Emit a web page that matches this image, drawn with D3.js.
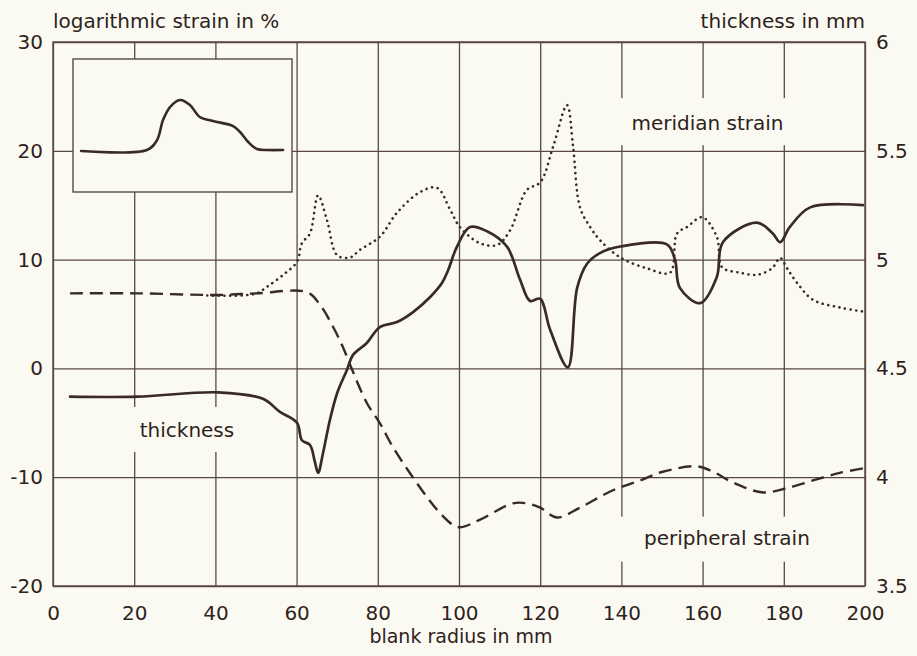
<!DOCTYPE html>
<html>
<head>
<meta charset="utf-8">
<script src="https://cdn.jsdelivr.net/npm/d3@7"></script>
<style>
  html, body { margin: 0; padding: 0; background: #fbfaf2; }
  svg { display: block; }
  text { font-family: "DejaVu Sans", "Liberation Sans", sans-serif; fill: #2e2220; }
</style>
</head>
<body>
<svg id="chart" width="917" height="656"></svg>
<script>
// Blank radius in mm (x) with measured quantities along it.

// Sheet thickness in mm (right axis)
const thicknessRadius = [4.2, 20.7, 40.6, 51.7, 55.9, 60.1, 61.3, 63.3, 64.5, 65.3, 66.5, 68.2, 70.0, 72.4, 73.9, 77.3, 80.5, 84.7, 88.7, 92.9, 95.8, 97.3, 99.5, 102.7, 106.9, 111.8, 115.0, 117.5, 120.0, 122.4, 126.8, 129.1, 131.5, 134.7, 139.7, 151.2, 153.2, 154.4, 159.4, 163.5, 165.0, 173.4, 177.3, 179.1, 181.5, 186.5, 199.5];
const thicknessMm = [4.37, 4.37, 4.39, 4.36, 4.30, 4.25, 4.17, 4.148, 4.07, 4.02, 4.11, 4.263, 4.387, 4.493, 4.562, 4.617, 4.69, 4.713, 4.759, 4.828, 4.892, 4.95, 5.06, 5.15, 5.13, 5.06, 4.91, 4.81, 4.82, 4.68, 4.505, 4.87, 4.98, 5.03, 5.06, 5.07, 5.00, 4.87, 4.80, 4.92, 5.08, 5.17, 5.12, 5.08, 5.15, 5.24, 5.25];

// Meridian strain in % (left axis)
const meridianRadius = [38, 46.0, 50.2, 52.7, 56.7, 60.1, 61.3, 63.3, 65.3, 67.5, 70.0, 73.2, 75.6, 80.5, 84.7, 90.4, 94.6, 97.8, 100.2, 105.2, 109.4, 112.6, 116.7, 120.0, 123.2, 126.6, 128.1, 129.8, 132.3, 134.7, 139.7, 146.3, 152.0, 153.7, 156.2, 159.9, 163.5, 164.8, 169.2, 173.4, 177.1, 179.1, 180.8, 183.3, 187.2, 193.8, 200];
const meridianStrain = [6.7, 6.7, 6.9, 7.5, 8.6, 9.8, 11.5, 12.4, 15.9, 13.6, 10.4, 10.2, 10.9, 12.1, 14.3, 16.2, 16.6, 14.6, 13.0, 11.5, 11.35, 12.7, 16.4, 17.1, 20.4, 24.2, 20.4, 14.8, 13.0, 11.8, 10.2, 9.2, 8.8, 12.4, 13.0, 13.9, 12.1, 9.3, 8.8, 8.6, 9.2, 10.15, 9.2, 7.85, 6.3, 5.6, 5.2];

// Peripheral strain in % (left axis)
const peripheralRadius = [4.2, 20.7, 40.6, 50.2, 62.6, 65.8, 69.0, 71.4, 73.2, 77.3, 80.5, 83.7, 87.9, 92.1, 95.3, 98.5, 100.4, 105.2, 113.3, 116.7, 120.0, 124.1, 129.8, 137.9, 144.6, 150.2, 158.6, 162.6, 167.5, 174.9, 180.8, 187.2, 193.8, 200];
const peripheralStrain = [6.9, 6.9, 6.75, 6.9, 7.0, 5.83, 3.81, 1.97, 0.31, -3.18, -5.02, -7.22, -9.61, -11.82, -13.29, -14.39, -14.6, -13.9, -12.4, -12.4, -12.8, -13.7, -12.8, -11.2, -10.3, -9.5, -9.0, -9.5, -10.5, -11.4, -11.0, -10.3, -9.6, -9.15];

// Inset: profile of the drawn part (relative units)
const profileX = [3.7, 33.8, 38.4, 41.1, 44.3, 48.9, 53.4, 57.9, 63.9, 73.1, 76.3, 80.0, 84.0, 88.6, 95.9];
const profileY = [30.8, 31.6, 39.1, 54.1, 63.9, 69.2, 65.4, 56.4, 53.4, 49.6, 45.1, 37.6, 32.3, 31.6, 31.6];

// Tick values
const xTicks = [0, 20, 40, 60, 80, 100, 120, 140, 160, 180, 200];
const strainTicks = [-20, -10, 0, 10, 20, 30];
const strainTickLabels = ["-20", "-10", "0", "10", "20", "30"];
const thicknessTicks = [3.5, 4, 4.5, 5, 5.5, 6];
const thicknessTickLabels = ["3.5", "4", "4.5", "5", "5.5", "6"];

const ink = "#3a2a26";
const gridInk = "#5a4742";
const paper = "#fbfaf2";

const svg = d3.select("#chart");
const plotL = 53, plotR = 865, plotT = 42, plotB = 586;

const x = d3.scaleLinear().domain([0, 200]).range([plotL, plotR]);
const yStrain = d3.scaleLinear().domain([-20, 30]).range([plotB, plotT]);
const yThick = d3.scaleLinear().domain([3.5, 6]).range([plotB, plotT]);

svg.append("rect").attr("width", 917).attr("height", 656).attr("fill", paper);

// Grid
const grid = svg.append("g");
grid.append("g")
  .attr("transform", `translate(0,${plotB})`)
  .call(d3.axisBottom(x).tickValues(xTicks).tickSize(-(plotB - plotT)).tickFormat(""))
  .call(g => g.select(".domain").remove());
grid.append("g")
  .attr("transform", `translate(${plotL},0)`)
  .call(d3.axisLeft(yStrain).tickValues(strainTicks).tickSize(-(plotR - plotL)).tickFormat(""))
  .call(g => g.select(".domain").remove());
grid.selectAll("line").attr("stroke", gridInk).attr("stroke-width", 1.3);

// Frame
svg.append("rect")
  .attr("x", plotL).attr("y", plotT)
  .attr("width", plotR - plotL).attr("height", plotB - plotT)
  .attr("fill", "none").attr("stroke", gridInk).attr("stroke-width", 1.4);

// Axis tick labels
const axisText = g => {
  g.select(".domain").remove();
  g.selectAll(".tick line").remove();
  g.selectAll("text").attr("fill", "#2e2220").attr("font-family", "DejaVu Sans, Liberation Sans, sans-serif")
    .attr("font-size", 20);
};
svg.append("g")
  .attr("transform", `translate(0,${plotB})`)
  .call(d3.axisBottom(x).tickValues(xTicks).tickSize(0).tickPadding(20).tickFormat(d => String(d)))
  .call(axisText);
svg.append("g")
  .attr("transform", `translate(${plotL},0)`)
  .call(d3.axisLeft(yStrain).tickValues(strainTicks).tickSize(0).tickPadding(10)
    .tickFormat((d, i) => strainTickLabels[i]))
  .call(axisText);
svg.append("g")
  .attr("transform", `translate(${plotR},0)`)
  .call(d3.axisRight(yThick).tickValues(thicknessTicks).tickSize(0).tickPadding(11)
    .tickFormat((d, i) => thicknessTickLabels[i]))
  .call(axisText);

// Axis titles
svg.append("text").attr("x", plotL).attr("y", 28).attr("font-size", 20)
  .text("logarithmic strain in %");
svg.append("text").attr("x", plotR).attr("y", 28).attr("font-size", 20)
  .attr("text-anchor", "end").text("thickness in mm");
svg.append("text").attr("x", (plotL + plotR) / 2 + 2).attr("y", 643).attr("font-size", 19)
  .attr("text-anchor", "middle").text("blank radius in mm");

// Curve labels on cleared patches of the grid
const labels = [
  { text: "meridian strain", r: 161.2, v: 21.9, box: [-97, -32, 180, 47] },
  { text: "peripheral strain", r: 166, v: -16.2, box: [-110, -28, 200, 45] },
  { text: "thickness", r: 33, v: -6.3, box: [-80, -30, 150, 45] }
];
const labelLayer = svg.append("g");
labels.forEach(l => {
  const cx = x(l.r), cy = yStrain(l.v);
  labelLayer.append("rect")
    .attr("x", cx + l.box[0]).attr("y", cy + l.box[1])
    .attr("width", l.box[2]).attr("height", l.box[3])
    .attr("fill", paper);
});

// Inset with the part profile
const inset = { x0: 73, y0: 59, x1: 292, y1: 192 };
svg.append("rect")
  .attr("x", inset.x0).attr("y", inset.y0)
  .attr("width", inset.x1 - inset.x0).attr("height", inset.y1 - inset.y0)
  .attr("fill", paper).attr("stroke", gridInk).attr("stroke-width", 1.4);
const ix = d3.scaleLinear().domain([0, 100]).range([inset.x0, inset.x1]);
const iy = d3.scaleLinear().domain([0, 100]).range([inset.y1, inset.y0]);
svg.append("path")
  .datum(profileX.map((d, i) => [d, profileY[i]]))
  .attr("d", d3.line().x(d => ix(d[0])).y(d => iy(d[1])).curve(d3.curveCatmullRom.alpha(0.5)))
  .attr("fill", "none").attr("stroke", ink).attr("stroke-width", 2.6)
  .attr("stroke-linecap", "round");

// Curves
const smooth = d3.curveCatmullRom.alpha(0.5);
const lineStrain = d3.line().x(d => x(d[0])).y(d => yStrain(d[1])).curve(smooth);
const lineThick = d3.line().x(d => x(d[0])).y(d => yThick(d[1])).curve(smooth);

svg.append("path")
  .datum(peripheralRadius.map((r, i) => [r, peripheralStrain[i]]))
  .attr("d", lineStrain)
  .attr("fill", "none").attr("stroke", ink).attr("stroke-width", 2.4)
  .attr("stroke-dasharray", "13 7");

svg.append("path")
  .datum(meridianRadius.map((r, i) => [r, meridianStrain[i]]))
  .attr("d", lineStrain)
  .attr("fill", "none").attr("stroke", ink).attr("stroke-width", 2.6)
  .attr("stroke-dasharray", "0.1 5.6").attr("stroke-linecap", "round");

svg.append("path")
  .datum(thicknessRadius.map((r, i) => [r, thicknessMm[i]]))
  .attr("d", lineThick)
  .attr("fill", "none").attr("stroke", ink).attr("stroke-width", 2.7)
  .attr("stroke-linejoin", "round").attr("stroke-linecap", "round");

// Label texts
labels.forEach(l => {
  labelLayer.append("text")
    .attr("x", x(l.r)).attr("y", yStrain(l.v))
    .attr("font-size", 20).attr("text-anchor", "middle")
    .text(l.text);
});
labelLayer.raise();
</script>
</body>
</html>
